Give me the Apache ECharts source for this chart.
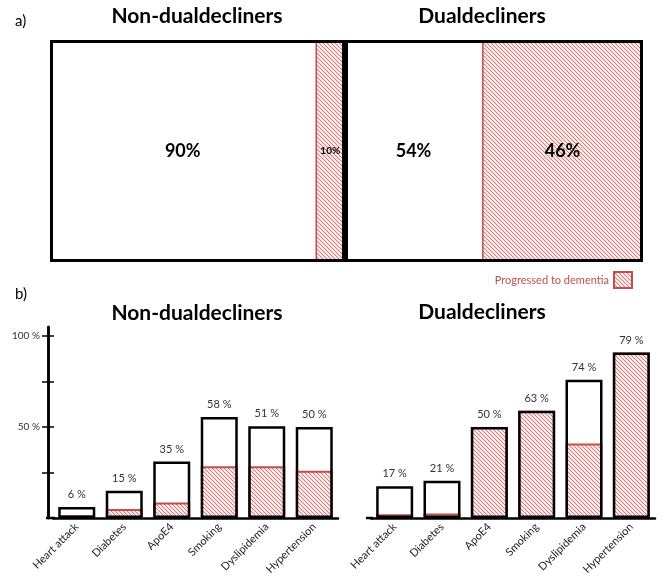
<!DOCTYPE html>
<html><head><meta charset="utf-8">
<script src="https://cdn.jsdelivr.net/npm/echarts@6/dist/echarts.min.js"></script>
<style>html,body{margin:0;padding:0;background:#fff}#c{width:666px;height:586px}</style>
</head><body><div id="c"></div>
<script>
// ---------- data ----------
const groupTitles = ['Non-dualdecliners', 'Dualdecliners'];
const legendName = 'Progressed to dementia';
// panel a) : share of each group (as drawn) and printed labels
const mosaicNonShare = [90, 10];          // [not progressed, progressed]
const mosaicNonLabels = ['90%', '10%'];
const mosaicDualShare = [46, 54];         // [not progressed, progressed]
const mosaicDualLabels = ['54%', '46%'];
// panel b) : risk factor prevalence (%)
const riskFactors = ['Heart attack', 'Diabetes', 'ApoE4', 'Smoking', 'Dyslipidemia', 'Hypertension'];
const nonTotal = [6, 15, 31, 55.5, 50.5, 50];
const nonDementia = [1.5, 5, 8.5, 28.5, 28.5, 26];
const nonLabels = ['6 %', '15 %', '35 %', '58 %', '51 %', '50 %'];
const dualTotal = [17.5, 20.5, 50, 59, 76, 91];
const dualDementia = [2, 2.5, 50, 59, 41, 91];
const dualLabels = ['17 %', '21 %', '50 %', '63 %', '74 %', '79 %'];
const yTickValues = [25, 50, 75, 100];
const yLabelValues = [50, 100];

// ---------- styles ----------
const FONT = 'Lato';
const RED = '#c0504d';
function hatch() {
  const c = document.createElement('canvas');
  c.width = 4; c.height = 4;
  const g = c.getContext('2d');
  g.fillStyle = '#fff'; g.fillRect(0, 0, 4, 4);
  g.strokeStyle = '#d98080'; g.lineWidth = 1.2;
  g.beginPath();
  g.moveTo(-1, -1); g.lineTo(5, 5);
  g.moveTo(-1, 3); g.lineTo(1, 5);
  g.moveTo(3, -1); g.lineTo(5, 1);
  g.stroke();
  return { image: c, repeat: 'repeat' };
}
const HATCH = hatch();

const chart = echarts.init(document.getElementById('c'), null, { renderer: 'canvas' });

function mosaicSeries(idx, share, labels) {
  return [
    { type: 'bar', name: 'box' + idx, xAxisIndex: idx, yAxisIndex: idx, data: [100], barWidth: '100%', barGap: '-100%',
      itemStyle: { color: 'transparent', borderColor: '#000', borderWidth: 3 }, z: 5, silent: true },
    { type: 'bar', name: 'not' + idx, stack: 'm' + idx, xAxisIndex: idx, yAxisIndex: idx, data: [share[0]], barWidth: '100%', barGap: '-100%',
      itemStyle: { color: '#fff' },
      label: { show: true, position: 'inside', formatter: labels[0], fontSize: 18, fontWeight: 'bold', color: '#000', fontFamily: FONT } },
    { type: 'bar', name: legendName, stack: 'm' + idx, xAxisIndex: idx, yAxisIndex: idx, data: [share[1]], barWidth: '100%', barGap: '-100%',
      itemStyle: { color: HATCH, borderColor: RED, borderWidth: 1.5 },
      label: { show: true, position: 'inside', formatter: labels[1], fontSize: idx === 0 ? 10 : 18, fontWeight: 'bold', color: '#000', fontFamily: FONT } }
  ];
}
function riskSeries(idx, total, dem, labels) {
  return [
    { type: 'bar', name: 'white' + idx, xAxisIndex: idx, yAxisIndex: idx, data: total, barWidth: 37, barGap: '-100%',
      itemStyle: { color: '#fff' }, z: 2 },
    { type: 'bar', name: legendName, xAxisIndex: idx, yAxisIndex: idx, data: dem, barWidth: 37, barGap: '-100%',
      itemStyle: { color: HATCH, borderColor: RED, borderWidth: 2 }, z: 3 },
    { type: 'bar', name: 'outline' + idx, xAxisIndex: idx, yAxisIndex: idx, data: total, barWidth: 37, barGap: '-100%',
      itemStyle: { color: 'transparent', borderColor: '#000', borderWidth: 2.5 }, z: 4,
      label: { show: true, position: 'top', distance: 7, formatter: p => labels[p.dataIndex], fontSize: 11, color: '#333', fontFamily: FONT } }
  ];
}

const catAxisBottom = (gi) => ({
  type: 'category', gridIndex: gi, data: riskFactors,
  axisLine: { show: true, lineStyle: { color: '#000', width: 2.5 } },
  axisTick: { show: false },
  axisLabel: { rotate: 45, interval: 0, fontSize: 11, color: '#222', margin: 7, fontFamily: FONT }
});

const option = {
  animation: false,
  backgroundColor: '#fff',
  textStyle: { fontFamily: FONT },
  legend: {
    data: [legendName], right: 28, top: 266, align: 'right', icon: 'rect',
    itemWidth: 18, itemHeight: 16, itemGap: 8,
    textStyle: { color: RED, fontSize: 11, fontFamily: FONT }, selectedMode: false
  },
  grid: [
    { left: 50, width: 295, top: 40, height: 222 },
    { left: 345, width: 298, top: 40, height: 222 },
    { left: 53, width: 285, top: 327, height: 191 },
    { left: 371, width: 284, top: 327, height: 191 }
  ],
  xAxis: [
    { type: 'value', gridIndex: 0, min: 0, max: 100, show: false },
    { type: 'value', gridIndex: 1, min: 0, max: 100, show: false },
    catAxisBottom(2),
    catAxisBottom(3)
  ],
  yAxis: [
    { type: 'category', gridIndex: 0, data: ['a'], show: false },
    { type: 'category', gridIndex: 1, data: ['a'], show: false },
    { type: 'value', gridIndex: 2, position: 'left', min: 0, max: 105, offset: 5,
      axisLine: { show: true, lineStyle: { color: '#000', width: 2.5 } },
      axisTick: { show: true, customValues: yTickValues, length: 6, lineStyle: { color: '#000', width: 1.5 } },
      axisLabel: { customValues: yLabelValues, formatter: '{value} %', fontSize: 10, color: '#333', margin: 8, fontFamily: FONT },
      splitLine: { show: false } },
    { type: 'value', gridIndex: 3, min: 0, max: 105, show: false },
    { type: 'value', gridIndex: 2, position: 'left', min: 0, max: 105, offset: 5,
      axisLine: { show: true, lineStyle: { color: '#000', width: 2.5 } },
      axisTick: { show: true, inside: true, customValues: yTickValues, length: 6, lineStyle: { color: '#000', width: 1.5 } },
      axisLabel: { show: false }, splitLine: { show: false } }
  ],
  series: [
    ...mosaicSeries(0, mosaicNonShare, mosaicNonLabels),
    ...mosaicSeries(1, mosaicDualShare, mosaicDualLabels),
    ...riskSeries(2, nonTotal, nonDementia, nonLabels),
    ...riskSeries(3, dualTotal, dualDementia, dualLabels)
  ],
  graphic: [
    { type: 'text', x: 15, y: 21, style: { text: 'a)', font: '15px ' + FONT, fill: '#000', textVerticalAlign: 'middle', verticalAlign: 'middle' } },
    { type: 'text', x: 15, y: 294, style: { text: 'b)', font: '15px ' + FONT, fill: '#000', textVerticalAlign: 'middle', verticalAlign: 'middle' } },
    { type: 'text', x: 197, y: 16, style: { text: groupTitles[0], font: 'bold 21px ' + FONT, fill: '#000', textAlign: 'center', align: 'center', textVerticalAlign: 'middle', verticalAlign: 'middle' } },
    { type: 'text', x: 482, y: 16, style: { text: groupTitles[1], font: 'bold 21px ' + FONT, fill: '#000', textAlign: 'center', align: 'center', textVerticalAlign: 'middle', verticalAlign: 'middle' } },
    { type: 'text', x: 197, y: 313, style: { text: groupTitles[0], font: 'bold 21px ' + FONT, fill: '#000', textAlign: 'center', align: 'center', textVerticalAlign: 'middle', verticalAlign: 'middle' } },
    { type: 'text', x: 482, y: 312, style: { text: groupTitles[1], font: 'bold 21px ' + FONT, fill: '#000', textAlign: 'center', align: 'center', textVerticalAlign: 'middle', verticalAlign: 'middle' } },
    { type: 'line', shape: { x1: 46, y1: 518, x2: 55, y2: 518 }, style: { stroke: '#000', lineWidth: 2.5 } },
    { type: 'line', shape: { x1: 366, y1: 518, x2: 373, y2: 518 }, style: { stroke: '#000', lineWidth: 2.5 } }
  ]
};
chart.setOption(option);
</script>
</body></html>
